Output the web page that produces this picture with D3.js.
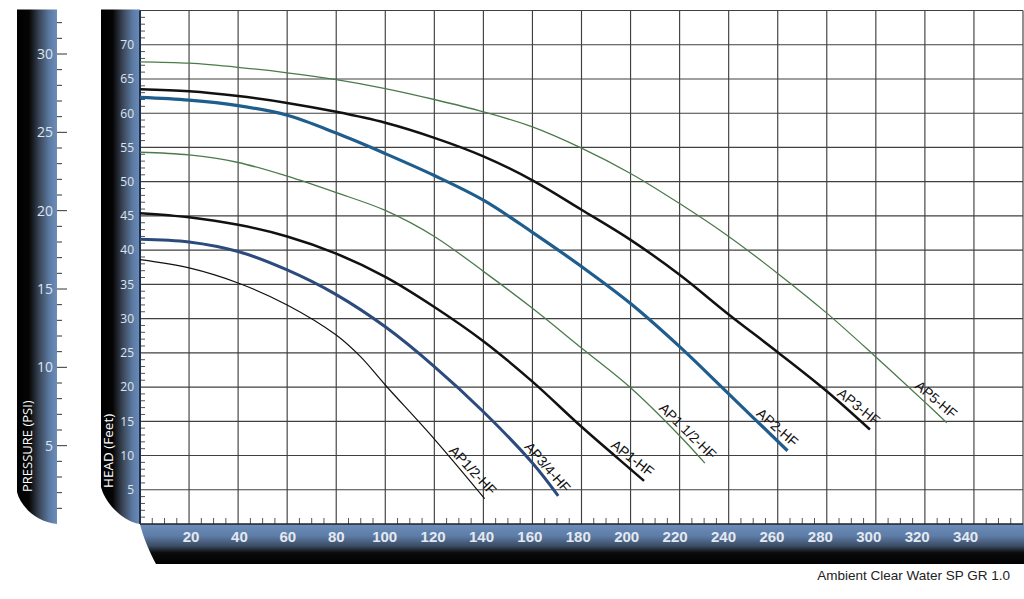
<!DOCTYPE html>
<html><head><meta charset="utf-8">
<script src="https://cdn.jsdelivr.net/npm/d3@7"></script>
<style>body{margin:0;background:#fff}svg{display:block}</style>
</head><body><svg id="c" width="1024" height="599"></svg>
<script>
// ---------- data ----------
const flowTicks = [20,40,60,80,100,120,140,160,180,200,220,240,260,280,300,320,340];
const headTicks = [5,10,15,20,25,30,35,40,45,50,55,60,65,70];
const psiTicks  = [5,10,15,20,25,30];
const seriesNames = ["AP1/2-HF","AP3/4-HF","AP1-HF","AP1 1/2-HF","AP2-HF","AP3-HF","AP5-HF"];

const ap12Flow  = [0,20,40,60,80,90,100,120,140.5];
const ap12Head  = [38.6,37.4,35.2,32.0,27.6,24.4,20.3,12.4,3.7];
const ap34Flow  = [0,20,40,60,80,100,120,140,160,170.5];
const ap34Head  = [41.6,41.2,39.8,37.1,33.5,28.8,23.0,16.4,8.9,4.1];
const ap1Flow   = [0,20,40,60,80,100,120,140,160,180,200,205.5];
const ap1Head   = [45.4,44.8,43.7,42.0,39.5,36.1,31.7,26.7,20.8,14.2,8.0,6.3];
const ap112Flow = [0,20,40,60,80,100,120,140,160,180,200,220,230.3];
const ap112Head = [54.3,53.9,52.8,50.8,48.4,45.8,42.0,36.9,31.5,25.7,19.9,12.9,8.9];
const ap2Flow   = [0,20,40,60,80,100,120,140,160,180,200,220,240,264];
const ap2Head   = [62.3,61.9,61.1,59.7,57.1,54.1,50.9,47.3,42.6,37.6,32.2,25.9,19.0,10.7];
const ap3Flow   = [0,20,40,60,80,100,120,140,160,180,200,220,240,260,280,297.6];
const ap3Head   = [63.5,63.2,62.5,61.5,60.2,58.6,56.4,53.7,50.2,45.9,41.5,36.4,30.6,25.1,19.4,13.8];
const ap5Flow   = [0,20,40,60,80,100,120,140,160,180,200,220,240,260,280,300,320,328.9];
const ap5Head   = [67.5,67.3,66.7,65.9,64.9,63.6,62.0,60.2,58.0,54.9,51.2,46.8,42.0,36.6,30.8,24.4,17.8,14.8];

const seriesFlows = [ap12Flow,ap34Flow,ap1Flow,ap112Flow,ap2Flow,ap3Flow,ap5Flow];
const seriesHeads = [ap12Head,ap34Head,ap1Head,ap112Head,ap2Head,ap3Head,ap5Head];
const seriesColors = ["#111111","#2c4b7c","#111111","#4b7a4b","#1f5d8d","#111111","#4b7a4b"];
const seriesWidths = [1.2,3,2.5,1.3,3.2,2.5,1.3];

// ---------- scales ----------
const svg = d3.select("#c");
const x  = d3.scaleLinear().domain([0,360]).range([140,1023]);
const y  = d3.scaleLinear().domain([0,75]).range([524,10.5]);
const p  = d3.scaleLinear().domain([0,30]).range([524,54]);
const xl = d3.scaleLinear().domain([0,360]).range([142.6,1014]);

// ---------- gradients ----------
const defs = svg.append("defs");
function hGrad(id, stops){
  const g = defs.append("linearGradient").attr("id",id).attr("x1",0).attr("x2",1).attr("y1",0).attr("y2",0);
  stops.forEach(s=>g.append("stop").attr("offset",s[0]).attr("stop-color",s[1]));
}
function vGrad(id, stops){
  const g = defs.append("linearGradient").attr("id",id).attr("x1",0).attr("x2",0).attr("y1",0).attr("y2",1);
  stops.forEach(s=>g.append("stop").attr("offset",s[0]).attr("stop-color",s[1]));
}
hGrad("gp",[[0,"#000"],[0.3,"#050505"],[0.55,"#394455"],[0.8,"#5a78a0"],[1,"#6d8ebb"]]);
hGrad("gh",[[0,"#000"],[0.3,"#050505"],[0.55,"#394455"],[0.8,"#5a78a0"],[1,"#6b8cba"]]);
vGrad("gb",[[0,"#6d8ebb"],[0.3,"#5d7ca6"],[0.55,"#3c4c63"],[0.72,"#0b0b0b"],[1,"#000"]]);

// ---------- side bars ----------
svg.append("path").attr("fill","url(#gp)")
  .attr("d",`M17,9.5 H57 V${p(0)} C35,522 20,505 17,492 Z`);
svg.append("path").attr("fill","url(#gh)")
  .attr("d",`M101,9.5 H140 V${y(0)} C120,521 104,500 101,487 Z`);
svg.append("path").attr("fill","url(#gb)")
  .attr("d",`M140,${y(0)} H1024 V564 H156 C150,553 143,537 140,${y(0)} Z`);

// pressure ticks
const psiMinor = d3.range(1,33);
svg.append("g").selectAll("line").data(psiMinor).join("line")
  .attr("x1",57).attr("x2",d=>d%5===0?67:62)
  .attr("y1",d=>p(d)).attr("y2",d=>p(d))
  .attr("stroke","#333").attr("stroke-width",1);
svg.append("g").selectAll("text").data(psiTicks).join("text")
  .attr("x",53).attr("y",d=>p(d)).attr("dy","0.36em")
  .attr("text-anchor","end").attr("font-family","Open Sans, sans-serif")
  .attr("font-size",14).attr("fill","#dfe5ee").text(d=>d);
svg.append("text").attr("transform",`translate(32,492) rotate(-90)`)
  .attr("font-family","Open Sans, sans-serif").attr("font-size",13)
  .attr("fill","#fff").text("PRESSURE (PSI)");

// head labels
svg.append("g").selectAll("text").data(headTicks).join("text")
  .attr("x",134).attr("y",d=>y(d)).attr("dy","0.36em")
  .attr("text-anchor","end").attr("font-family","Open Sans, sans-serif")
  .attr("font-size",12).attr("fill","#dfe5ee").text(d=>d);
svg.append("text").attr("transform",`translate(113,488) rotate(-90)`)
  .attr("font-family","Open Sans, sans-serif").attr("font-size",13.5)
  .attr("fill","#fff").text("HEAD (Feet)");

// ---------- plot grid ----------
const g = svg.append("g");
g.append("rect").attr("x",x(0)).attr("y",y(75)).attr("width",x(360)-x(0)).attr("height",y(0)-y(75)).attr("fill","#fff");
g.append("g").selectAll("line").data(d3.range(20,361,20)).join("line")
  .attr("x1",d=>x(d)).attr("x2",d=>x(d)).attr("y1",y(0)).attr("y2",y(75))
  .attr("stroke","#404040").attr("stroke-width",1.15);
g.append("g").selectAll("line").data(d3.range(5,76,5)).join("line")
  .attr("x1",x(0)).attr("x2",x(360)).attr("y1",d=>y(d)).attr("y2",d=>y(d))
  .attr("stroke","#404040").attr("stroke-width",1.15);
// minor ticks
g.append("g").selectAll("line").data(d3.range(1,75).filter(d=>d%5)).join("line")
  .attr("x1",x(0)).attr("x2",x(0)+5).attr("y1",d=>y(d)).attr("y2",d=>y(d))
  .attr("stroke","#555").attr("stroke-width",1);
g.append("g").selectAll("line").data(d3.range(5,360,5).filter(d=>d%20)).join("line")
  .attr("x1",d=>x(d)).attr("x2",d=>x(d)).attr("y1",y(0)).attr("y2",y(0)-6)
  .attr("stroke","#555").attr("stroke-width",1);
g.append("line").attr("x1",x(0)).attr("x2",x(360)).attr("y1",y(0)).attr("y2",y(0)).attr("stroke","#222").attr("stroke-width",1.5);
g.append("line").attr("x1",x(0)).attr("x2",x(0)).attr("y1",y(75)).attr("y2",y(0)).attr("stroke","#1c2d4d").attr("stroke-width",2);

// bottom labels
svg.append("g").selectAll("text").data(flowTicks).join("text")
  .attr("x",d=>xl(d)).attr("y",537).attr("dy","0.36em")
  .attr("text-anchor","middle").attr("font-family","Liberation Sans, Arial, sans-serif")
  .attr("font-weight","bold").attr("font-size",15).attr("fill","#e4e9f0").text(d=>d);

svg.append("text").attr("x",1010).attr("y",580).attr("text-anchor","end")
  .attr("font-family","Liberation Sans, Arial, sans-serif").attr("font-size",13.5)
  .attr("fill","#222").text("Ambient Clear Water SP GR 1.0");

// ---------- curves ----------
const line = d3.line().x(d=>x(d[0])).y(d=>y(d[1])).curve(d3.curveCatmullRom.alpha(0.5));
seriesNames.forEach((name,i)=>{
  const pts = seriesFlows[i].map((f,j)=>[f,seriesHeads[i][j]]);
  g.append("path").datum(pts).attr("d",line).attr("fill","none")
    .attr("stroke",seriesColors[i]).attr("stroke-width",seriesWidths[i])
    .attr("stroke-linecap","butt");
  const a = pts[pts.length-2], b = pts[pts.length-1];
  const ang = Math.atan2(y(b[1])-y(a[1]), x(b[0])-x(a[0]))*180/Math.PI - 3;
  g.append("text")
    .attr("transform",`translate(${x(b[0])},${y(b[1])}) rotate(${ang})`)
    .attr("dx",2).attr("dy",-6).attr("text-anchor","end")
    .attr("font-family","Liberation Sans, Arial, sans-serif").attr("font-size",14)
    .attr("fill","#111").text(name);
});
</script></body></html>
